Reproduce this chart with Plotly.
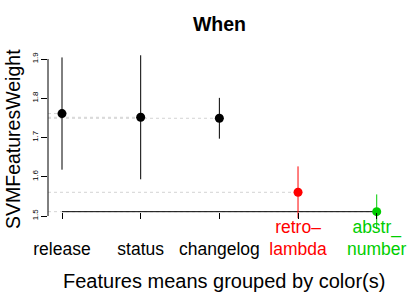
import plotly.graph_objects as go

# ---- data ----
categories = ["release", "status", "changelog", "retro\u2013<br>lambda", "abstr_<br>number"]
means = [1.761, 1.7515, 1.749, 1.5604, 1.511]
errors = [0.143, 0.158, 0.052, 0.066, 0.044]
colors = ["#000000", "#000000", "#000000", "#FF0000", "#00CD00"]
y_ticks = [1.5, 1.6, 1.7, 1.8, 1.9]

W, H = 415, 297
FONT = "Liberation Sans, Arial, Helvetica, sans-serif"

x_pos = list(range(1, len(categories) + 1))
x_range = [0.822, 5.296]
y_range = [1.43885, 1.94841]
axis_y = min(means)

fig = go.Figure()

shapes = []
for xi, m in zip(x_pos, means):
    shapes.append(dict(type="line", xref="x", yref="y", x0=x_range[0], x1=xi, y0=m, y1=m,
                       line=dict(color="#D3D3D3", width=1, dash="dot"), layer="below"))
shapes.append(dict(type="line", xref="x", yref="y", x0=x_pos[0], x1=x_pos[-1], y0=axis_y, y1=axis_y,
                   line=dict(color="#000000", width=1), layer="below"))
shapes.append(dict(type="line", xref="paper", yref="y", x0=0, x1=0, y0=y_ticks[0], y1=y_ticks[-1],
                   line=dict(color="#000000", width=1)))

for xi, m, e, c in zip(x_pos, means, errors, colors):
    fig.add_trace(go.Scatter(
        x=[xi], y=[m], mode="markers",
        marker=dict(color=c, size=9, line=dict(width=0)),
        error_y=dict(type="data", array=[e], visible=True, color=c, thickness=1, width=0),
        showlegend=False, hoverinfo="skip", cliponaxis=False,
    ))

ticktext = [f'<span style="color:{c}">{("&#160;<br>" + t) if "<br>" not in t else t}</span>'
            for t, c in zip(categories, colors)]

pos = (axis_y - y_range[0]) / (y_range[1] - y_range[0])
PW, PH = W - 48 - 15, H - 40 - 57

fig.update_layout(
    width=W, height=H,
    margin=dict(l=48, r=15, t=40, b=57, pad=0, autoexpand=False),
    paper_bgcolor="white", plot_bgcolor="white",
    font=dict(family=FONT, color="#000000"),
    showlegend=False,
    shapes=shapes,
    title=dict(text="<b>When</b>", x=219.5 / W, xanchor="center", y=1 - 24 / H, yanchor="middle",
               font=dict(size=19.5, family=FONT, color="#000000")),
    xaxis=dict(range=x_range, tickmode="array", tickvals=x_pos, ticktext=ticktext,
               showgrid=False, zeroline=False, showline=False, automargin=False,
               ticks="outside", ticklen=6, tickwidth=1, tickcolor="#000000",
               tickfont=dict(size=17.5, family=FONT), ticklabelstandoff=-7,
               anchor="free", position=pos),
    yaxis=dict(range=y_range, tickmode="array", tickvals=y_ticks,
               ticktext=[f"{v:.1f}" for v in y_ticks], automargin=False,
               showgrid=False, zeroline=False, showline=False,
               ticks="outside", ticklen=6, tickwidth=1, tickcolor="#000000",
               tickangle=-90, tickfont=dict(size=8, family=FONT)),
    annotations=[
        dict(text="Features means grouped by color(s)", xref="paper", yref="paper",
             x=(223.5 - 48) / PW, y=-(281 - (H - 57)) / PH,
             xanchor="center", yanchor="middle", showarrow=False,
             font=dict(size=20, family=FONT)),
        dict(text="SVMFeaturesWeight", xref="paper", yref="paper",
             x=-(48 - 13) / PW, y=1 - (139 - 40) / PH,
             xanchor="center", yanchor="middle", textangle=-90, showarrow=False,
             font=dict(size=19.5, family=FONT)),
    ],
)

fig.write_html("out.html", config={"displayModeBar": False},
               post_script="document.body.style.margin='0';document.body.style.padding='0';")
